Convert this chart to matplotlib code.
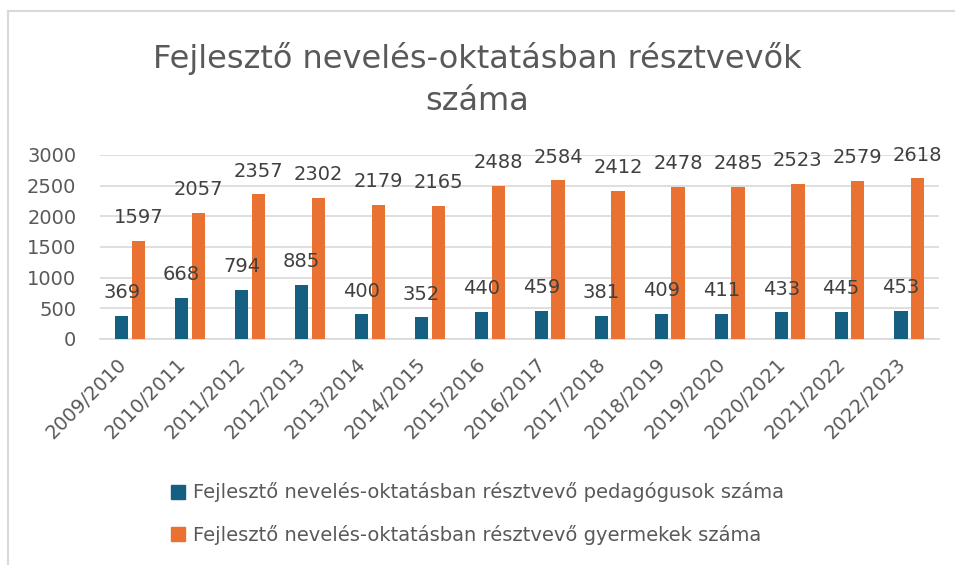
import numpy as np
import matplotlib.pyplot as plt
from matplotlib.lines import Line2D

years = ['2009/2010', '2010/2011', '2011/2012', '2012/2013', '2013/2014', '2014/2015',
         '2015/2016', '2016/2017', '2017/2018', '2018/2019', '2019/2020', '2020/2021',
         '2021/2022', '2022/2023']
pedagogusok = [369, 668, 794, 885, 400, 352, 440, 459, 381, 409, 411, 433, 445, 453]
gyermekek = [1597, 2057, 2357, 2302, 2179, 2165, 2488, 2584, 2412, 2478, 2485, 2523, 2579, 2618]
labels = ['Fejlesztő nevelés-oktatásban résztvevő pedagógusok száma',
          'Fejlesztő nevelés-oktatásban résztvevő gyermekek száma']

plt.rcParams['font.family'] = ['DejaVu Sans']
grey = '#595959'
blue = '#156082'
orange = '#E97132'

fig = plt.figure(figsize=(9.55, 5.65), dpi=100)
ax = fig.add_axes([0.1047, 0.40, 0.879, 0.3257])

x = np.arange(len(years))
w = 0.22
off = 0.14
ax.bar(x - off, pedagogusok, w, color=blue, zorder=3)
ax.bar(x + off, gyermekek, w, color=orange, zorder=3)

for xi, v in zip(x, pedagogusok):
    ax.annotate(str(v), (xi - off, v), xytext=(0, 10), textcoords='offset points',
                ha='center', va='bottom', fontsize=14, color='#404040')
for xi, v in zip(x, gyermekek):
    ax.annotate(str(v), (xi + off, v), xytext=(0, 10), textcoords='offset points',
                ha='center', va='bottom', fontsize=14, color='#404040')

ax.set_xlim(-0.5, len(years) - 0.5)
ax.set_ylim(0, 3000)
ax.set_yticks(range(0, 3001, 500))
ax.grid(axis='y', color='#d9d9d9', lw=1.2, zorder=0)
for s in ['top', 'right', 'left']:
    ax.spines[s].set_visible(False)
ax.spines['bottom'].set_color('#d9d9d9')
ax.spines['bottom'].set_linewidth(1.2)
ax.tick_params(axis='both', length=0, labelcolor=grey)
ax.tick_params(axis='y', pad=17, labelsize=14)
ax.set_xticks(x)
ax.set_xticklabels(years, rotation=45, ha='right')
ax.tick_params(axis='x', pad=11, labelsize=14)

fig.text(0.5, 1 - 68 / 565, 'Fejlesztő nevelés-oktatásban résztvevők', ha='center', va='baseline',
         fontsize=23, color=grey)
fig.text(0.5, 1 - 110 / 565, 'száma', ha='center', va='baseline', fontsize=23, color=grey)

handles = [Line2D([], [], marker='s', ls='', color=blue, markersize=10),
           Line2D([], [], marker='s', ls='', color=orange, markersize=10)]
fig.legend(handles, labels, loc='upper center', bbox_to_anchor=(0.5, 0.16),
           frameon=False, fontsize=14, labelcolor=grey, handlelength=0.7,
           handletextpad=0.4, labelspacing=1.15, borderaxespad=0)

# chart border (partly outside the image)
fig.add_artist(Line2D([8 / 955, 8 / 955], [-0.01, 1 - 11 / 565], color='#d9d9d9', lw=1.5))
fig.add_artist(Line2D([8 / 955, 1.01], [1 - 11 / 565, 1 - 11 / 565], color='#d9d9d9', lw=1.5))

fig.savefig('out.png', dpi=100)
